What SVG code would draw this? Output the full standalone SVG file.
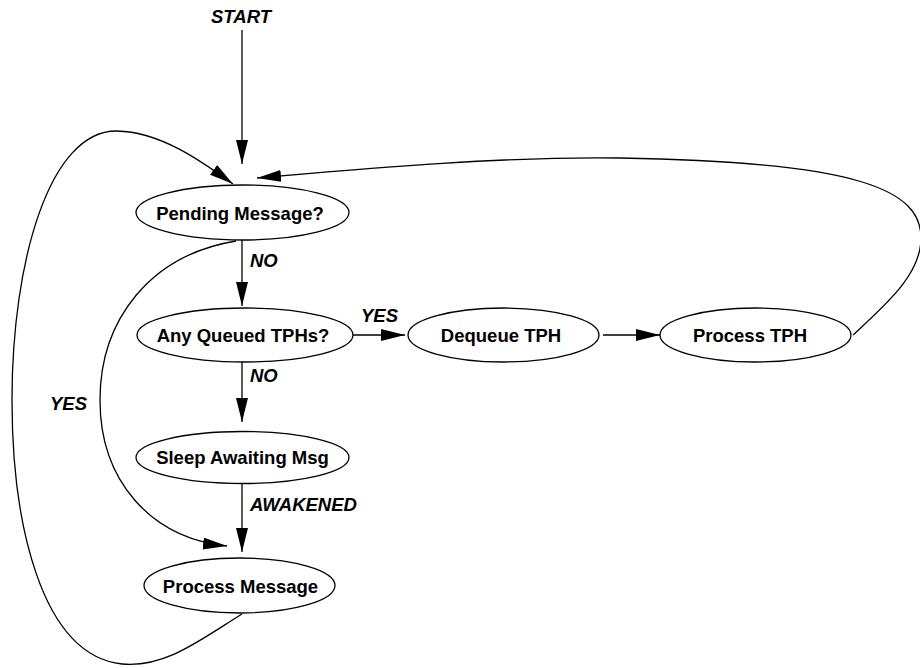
<svg xmlns="http://www.w3.org/2000/svg" width="920" height="668" viewBox="0 0 920 668">
  <style>
    .node ellipse { fill: #ffffff; stroke: #000000; stroke-width: 1.3; }
    .node text { font-family: "Liberation Sans", Arial, sans-serif; font-weight: bold; font-size: 18.5px; text-anchor: middle; fill: #000000; }
    .edge { fill: none; stroke: #000000; stroke-width: 1.3; marker-end: url(#arrow); }
    .label { font-family: "Liberation Sans", Arial, sans-serif; font-weight: bold; font-style: italic; font-size: 18.5px; fill: #000000; }
  </style>
  <defs>
    <marker id="arrow" markerUnits="userSpaceOnUse" markerWidth="26" markerHeight="14" refX="24" refY="6" orient="auto">
      <path d="M0,0 L24,6 L0,12 Z" fill="#000000"/>
    </marker>
  </defs>
  <rect width="920" height="668" fill="#ffffff"/>

  <g id="connectors">
    <!-- entry -->
    <path class="edge" d="M242,30 L242,164"/>
    <!-- Pending Message? -NO-> Any Queued TPHs? -->
    <path class="edge" d="M242,240 L242,306"/>
    <!-- Any Queued TPHs? -NO-> Sleep Awaiting Msg -->
    <path class="edge" d="M242,362 L242,422"/>
    <!-- Sleep Awaiting Msg -AWAKENED-> Process Message -->
    <path class="edge" d="M242,483 L242,552"/>
    <!-- Any Queued TPHs? -YES-> Dequeue TPH -->
    <path class="edge" d="M353,335 L405,335"/>
    <!-- Dequeue TPH -> Process TPH -->
    <path class="edge" d="M603,335 L660,335"/>
    <!-- Pending Message? -YES-> Process Message -->
    <path class="edge" d="M236,241 C150,255 100,320 100,400 C100,480 150,538 227,546"/>
    <!-- Process Message back to Pending Message? -->
    <path class="edge" d="M242,614 C200,640 165,668 122,664 C40,655 12,520 12,400 C12,260 50,130 117,131 C160,132 200,160 233,184"/>
    <!-- Process TPH back to Pending Message? -->
    <path class="edge" d="M853,335 C885,305 921,275 921,238 C921,190 860,162 620,158 C500,156 350,170 257,178"/>
  </g>

  <g id="pending-message" class="node">
    <ellipse cx="242.5" cy="212.5" rx="106.5" ry="27.5"/>
    <text x="240" y="220">Pending Message?</text>
  </g>
  <g id="any-queued-tphs" class="node">
    <ellipse cx="245" cy="335" rx="108" ry="27"/>
    <text x="243" y="342">Any Queued TPHs?</text>
  </g>
  <g id="dequeue-tph" class="node">
    <ellipse cx="503.5" cy="335" rx="95.5" ry="27"/>
    <text x="501" y="342">Dequeue TPH</text>
  </g>
  <g id="process-tph" class="node">
    <ellipse cx="755.5" cy="335" rx="95.5" ry="27"/>
    <text x="750" y="342">Process TPH</text>
  </g>
  <g id="sleep-awaiting-msg" class="node">
    <ellipse cx="242.5" cy="457.5" rx="106.5" ry="26"/>
    <text x="242.5" y="464">Sleep Awaiting Msg</text>
  </g>
  <g id="process-message" class="node">
    <ellipse cx="239.5" cy="585.5" rx="95.5" ry="27.5"/>
    <text x="240.5" y="593">Process Message</text>
  </g>

  <g id="edge-labels">
    <text class="label" x="241" y="23" text-anchor="middle">START</text>
    <text class="label" x="250" y="267">NO</text>
    <text class="label" x="250" y="382">NO</text>
    <text class="label" x="361" y="322">YES</text>
    <text class="label" x="50" y="410">YES</text>
    <text class="label" x="250" y="511">AWAKENED</text>
  </g>
</svg>
